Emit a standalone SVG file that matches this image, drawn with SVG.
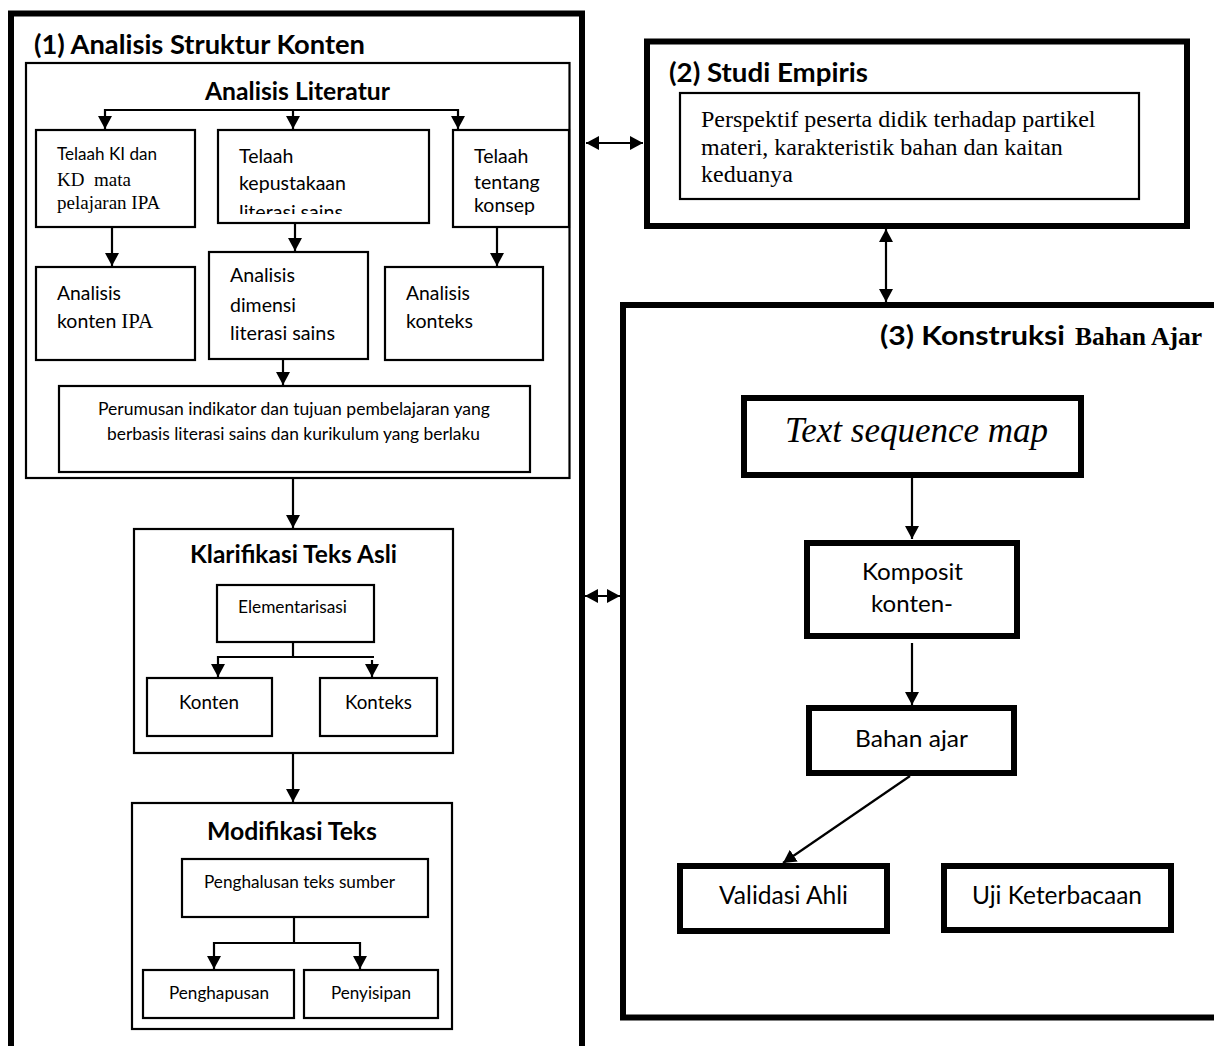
<svg xmlns="http://www.w3.org/2000/svg" width="1214" height="1046" viewBox="0 0 1214 1046">
<style>
.bg{fill:#fff}
.thick{fill:#fff;stroke:#000;stroke-width:6}
.thin{fill:#fff;stroke:#000;stroke-width:2.2}
.cn{fill:none;stroke:#000;stroke-width:2.2}
.sans{font-family:Lato,"Open Sans","Liberation Sans",sans-serif;fill:#000}
.serif{font-family:"Liberation Serif","Times New Roman",serif;fill:#000}
.b{font-weight:bold}
</style>
<defs>
<marker id="ah" viewBox="0 0 13 14" refX="13" refY="7" markerWidth="13" markerHeight="14" markerUnits="userSpaceOnUse" orient="auto-start-reverse">
<path d="M0,0 L13,7 L0,14 z" fill="#000"/>
</marker>
<clipPath id="clipKep"><rect x="219" y="131" width="209" height="83"/></clipPath>
</defs>
<rect class="bg" x="0" y="0" width="1214" height="1046"/>

<g id="box1">
<rect class="thick" x="11" y="13.5" width="571" height="1050"/>
<text class="sans b" x="34" y="54" font-size="26.5" textLength="331" lengthAdjust="spacingAndGlyphs">(1) Analisis Struktur Konten</text>
</g>

<g id="analisis-literatur">
<rect class="thin" x="26" y="63" width="543.5" height="415"/>
<text class="sans b" x="205" y="100" font-size="24" textLength="185" lengthAdjust="spacingAndGlyphs">Analisis Literatur</text>
</g>

<g id="telaah-ki">
<rect class="thin" x="36" y="130" width="159" height="97"/>
<text class="sans" x="57" y="160" font-size="16.5" textLength="100" lengthAdjust="spacingAndGlyphs">Telaah KI dan</text>
<text class="serif" x="57" y="186" font-size="19">KD&#160; mata</text>
<text class="serif" x="57" y="209" font-size="19">pelajaran IPA</text>
</g>

<g id="telaah-kepustakaan">
<rect class="thin" x="218" y="130" width="211" height="93"/>
<g clip-path="url(#clipKep)">
<text class="sans" x="239" y="163" font-size="19.5">Telaah</text>
<text class="sans" x="239" y="190" font-size="19.5" textLength="107" lengthAdjust="spacingAndGlyphs">kepustakaan</text>
<text class="sans" x="239" y="219" font-size="19.5" textLength="104" lengthAdjust="spacingAndGlyphs">literasi sains</text>
</g>
</g>

<g id="telaah-konsep">
<rect class="thin" x="453" y="130" width="116" height="97"/>
<text class="sans" x="474" y="163" font-size="19.5">Telaah</text>
<text class="sans" x="474" y="189" font-size="19.5">tentang</text>
<text class="sans" x="474" y="212" font-size="19.5">konsep</text>
</g>

<g id="analisis-konten">
<rect class="thin" x="36" y="267" width="159" height="93"/>
<text class="sans" x="57" y="300" font-size="19.5" textLength="64" lengthAdjust="spacingAndGlyphs">Analisis</text>
<text x="57" y="328"><tspan class="sans" font-size="19.5">konten </tspan><tspan class="serif" font-size="21">IPA</tspan></text>
</g>

<g id="analisis-dimensi">
<rect class="thin" x="209" y="252" width="159" height="107"/>
<text class="sans" x="230" y="282" font-size="19.5" textLength="65" lengthAdjust="spacingAndGlyphs">Analisis</text>
<text class="sans" x="230" y="312" font-size="19.5">dimensi</text>
<text class="sans" x="230" y="340" font-size="19.5" textLength="105" lengthAdjust="spacingAndGlyphs">literasi sains</text>
</g>

<g id="analisis-konteks">
<rect class="thin" x="385" y="267" width="158" height="93"/>
<text class="sans" x="406" y="300" font-size="19.5" textLength="64" lengthAdjust="spacingAndGlyphs">Analisis</text>
<text class="sans" x="406" y="328" font-size="19.5" textLength="67" lengthAdjust="spacingAndGlyphs">konteks</text>
</g>

<g id="perumusan">
<rect class="thin" x="59" y="386" width="471" height="86"/>
<text class="sans" x="98" y="415" font-size="17.5" textLength="392" lengthAdjust="spacingAndGlyphs">Perumusan indikator dan tujuan pembelajaran yang</text>
<text class="sans" x="107" y="440" font-size="17.5" textLength="373" lengthAdjust="spacingAndGlyphs">berbasis literasi sains dan kurikulum yang berlaku</text>
</g>

<g id="klarifikasi">
<rect class="thin" x="134" y="529" width="319" height="224"/>
<text class="sans b" x="190" y="563" font-size="24" textLength="207" lengthAdjust="spacingAndGlyphs">Klarifikasi Teks Asli</text>
</g>

<g id="elementarisasi">
<rect class="thin" x="217" y="585" width="157" height="57"/>
<text class="sans" x="238" y="613" font-size="17" textLength="109" lengthAdjust="spacingAndGlyphs">Elementarisasi</text>
</g>

<g id="konten">
<rect class="thin" x="147" y="678" width="125" height="58"/>
<text class="sans" x="179" y="709" font-size="19.5" textLength="60" lengthAdjust="spacingAndGlyphs">Konten</text>
</g>

<g id="konteks">
<rect class="thin" x="320" y="678" width="117" height="58"/>
<text class="sans" x="345" y="709" font-size="19.5" textLength="67" lengthAdjust="spacingAndGlyphs">Konteks</text>
</g>

<g id="modifikasi">
<rect class="thin" x="132" y="803" width="320" height="226"/>
<text class="sans b" x="207" y="840" font-size="24.5" textLength="170" lengthAdjust="spacingAndGlyphs">Modifikasi Teks</text>
</g>

<g id="penghalusan">
<rect class="thin" x="182" y="859" width="246" height="58"/>
<text class="sans" x="204" y="888" font-size="17" textLength="191" lengthAdjust="spacingAndGlyphs">Penghalusan teks sumber</text>
</g>

<g id="penghapusan">
<rect class="thin" x="143" y="970" width="151" height="48"/>
<text class="sans" x="169" y="999" font-size="17.5" textLength="100" lengthAdjust="spacingAndGlyphs">Penghapusan</text>
</g>

<g id="penyisipan">
<rect class="thin" x="304" y="970" width="134" height="48"/>
<text class="sans" x="331" y="999" font-size="17.5" textLength="80" lengthAdjust="spacingAndGlyphs">Penyisipan</text>
</g>

<g id="box2">
<rect class="thick" x="647" y="41.5" width="540" height="184.5"/>
<text class="sans b" x="669" y="82" font-size="26" textLength="199" lengthAdjust="spacingAndGlyphs">(2) Studi Empiris</text>
</g>

<g id="perspektif">
<rect class="thin" x="680" y="93" width="459" height="106"/>
<text class="serif" x="701" y="127" font-size="24">Perspektif peserta didik terhadap partikel</text>
<text class="serif" x="701" y="155" font-size="24">materi, karakteristik bahan dan kaitan</text>
<text class="serif" x="701" y="182" font-size="24">keduanya</text>
</g>

<g id="box3">
<rect class="thick" x="623" y="305" width="620" height="712.5"/>
<text class="sans b" x="880" y="345" font-size="26" textLength="185" lengthAdjust="spacingAndGlyphs">(3) Konstruksi</text>
<text class="serif b" x="1075" y="345" font-size="25.3" textLength="127" lengthAdjust="spacingAndGlyphs">Bahan Ajar</text>
</g>

<g id="text-sequence-map">
<rect class="thick" x="744" y="398" width="337" height="77"/>
<text class="serif" x="785" y="442" font-size="35" font-style="italic" textLength="263" lengthAdjust="spacingAndGlyphs">Text sequence map</text>
</g>

<g id="komposit">
<rect class="thick" x="807" y="543" width="210" height="93"/>
<text class="sans" x="862" y="580" font-size="24" textLength="101" lengthAdjust="spacingAndGlyphs">Komposit</text>
<text class="sans" x="871" y="612" font-size="24" textLength="82" lengthAdjust="spacingAndGlyphs">konten-</text>
</g>

<g id="bahan-ajar">
<rect class="thick" x="809" y="708" width="205" height="65"/>
<text class="sans" x="855" y="747" font-size="24" textLength="113" lengthAdjust="spacingAndGlyphs">Bahan ajar</text>
</g>

<g id="validasi">
<rect class="thick" x="680" y="866" width="207" height="65"/>
<text class="sans" x="719" y="904" font-size="24.5" textLength="129" lengthAdjust="spacingAndGlyphs">Validasi Ahli</text>
</g>

<g id="uji">
<rect class="thick" x="944" y="866" width="227" height="64"/>
<text class="sans" x="972" y="904" font-size="24.5" textLength="170" lengthAdjust="spacingAndGlyphs">Uji Keterbacaan</text>
</g>

<g id="connectors">
<polyline class="cn" points="105,129 105,110 458,110 458,129" marker-start="url(#ah)" marker-end="url(#ah)"/>
<line class="cn" x1="293" y1="110" x2="293" y2="129" marker-end="url(#ah)"/>
<line class="cn" x1="112" y1="227" x2="112" y2="266" marker-end="url(#ah)"/>
<line class="cn" x1="295" y1="223" x2="295" y2="251" marker-end="url(#ah)"/>
<line class="cn" x1="497" y1="227" x2="497" y2="266" marker-end="url(#ah)"/>
<line class="cn" x1="283" y1="359" x2="283" y2="385" marker-end="url(#ah)"/>
<line class="cn" x1="293" y1="479" x2="293" y2="528" marker-end="url(#ah)"/>
<line class="cn" x1="293" y1="642" x2="293" y2="657"/>
<polyline class="cn" points="218,677 218,657 374,657" marker-start="url(#ah)"/>
<line class="cn" x1="372" y1="660" x2="372" y2="677" marker-end="url(#ah)"/>
<line class="cn" x1="293" y1="753" x2="293" y2="802" marker-end="url(#ah)"/>
<line class="cn" x1="294" y1="917" x2="294" y2="943"/>
<polyline class="cn" points="214,969 214,943 360,943 360,969" marker-start="url(#ah)" marker-end="url(#ah)"/>
<line class="cn" x1="586" y1="143" x2="643" y2="143" marker-start="url(#ah)" marker-end="url(#ah)"/>
<line class="cn" x1="585" y1="596" x2="620" y2="596" marker-start="url(#ah)" marker-end="url(#ah)"/>
<line class="cn" x1="886" y1="229" x2="886" y2="302" marker-start="url(#ah)" marker-end="url(#ah)"/>
<line class="cn" x1="912" y1="478" x2="912" y2="539" marker-end="url(#ah)"/>
<line class="cn" x1="912" y1="643" x2="912" y2="705" marker-end="url(#ah)"/>
<line class="cn" x1="910" y1="776" x2="783" y2="863" marker-end="url(#ah)"/>
</g>
</svg>
